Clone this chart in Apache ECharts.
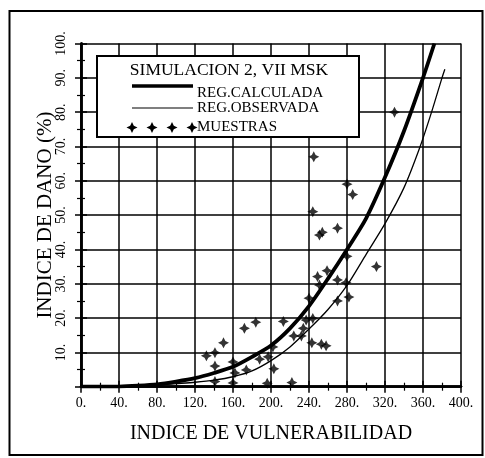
<!DOCTYPE html>
<html>
<head>
<meta charset="utf-8">
<script src="https://cdn.jsdelivr.net/npm/echarts@6/dist/echarts.min.js"></script>
<style>
html,body{margin:0;padding:0;background:#fff;}
#c{width:485px;height:458px;}
</style>
</head>
<body>
<div id="c"></div>
<script>
// ---- data ----
var titleText = 'SIMULACION 2, VII MSK';
var seriesNames = ['REG.CALCULADA', 'REG.OBSERVADA', 'MUESTRAS'];
var xAxisTitle = 'INDICE DE VULNERABILIDAD';
var yAxisTitle = 'INDICE DE DANO (%)';

// thick curve (calculated regression)
var calcX = [0, 40, 60, 80, 100, 120, 140, 160, 180, 200, 220, 240, 260, 280, 300, 320, 340, 360, 372];
var calcY = [0, 0.05, 0.3, 0.7, 1.5, 2.5, 4.0, 5.8, 8.7, 12.0, 17.0, 23.5, 31.5, 40.0, 49.0, 61.0, 74.5, 90.0, 100.0];

// thin curve (observed regression)
var obsX = [0, 40, 80, 100, 120, 140, 160, 180, 200, 220, 240, 260, 280, 300, 320, 340, 357, 369, 380, 383];
var obsY = [0, 0.05, 0.5, 0.9, 1.3, 1.9, 2.9, 4.6, 7.6, 11.6, 16.8, 22.5, 29.5, 38.5, 47.5, 58.0, 70.0, 80.0, 90.0, 92.5];

// samples (crosses)
var sampX = [132, 141, 150, 141, 141, 160, 162, 160, 172, 184, 174, 188, 197, 196, 202, 203, 213, 222, 224, 232, 234, 237, 244, 240, 243, 253, 258, 249, 251, 259, 270, 279, 282, 270, 280, 251, 254, 270, 244, 245, 280, 286, 311, 330];
var sampY = [9.0, 9.9, 12.8, 6.0, 1.5, 7.2, 4.0, 1.1, 17.0, 18.8, 4.9, 8.0, 8.7, 1.0, 11.6, 5.2, 19.0, 1.2, 14.8, 14.8, 17.0, 19.4, 19.9, 25.8, 12.8, 12.4, 11.9, 32.1, 29.6, 33.8, 31.1, 30.3, 26.1, 25.0, 38.0, 44.2, 45.0, 46.2, 51.0, 67.0, 59.0, 56.0, 35.0, 80.0];

var xMin = 0, xMax = 400, xStep = 40;
var yMin = 0, yMax = 100, yStep = 10;

// ---- build ----
function zip(a, b) { return a.map(function (v, i) { return [v, b[i]]; }); }
var FONT = 'Liberation Serif';
var crossPath = 'path://M0,-5L1.7,-1.7L5,0L1.7,1.7L0,5L-1.7,1.7L-5,0L-1.7,-1.7Z';

function crossPoly(cx, cy, r) {
  var k = r * 0.33;
  return [[cx, cy - r], [cx + k, cy - k], [cx + r, cy], [cx + k, cy + k], [cx, cy + r], [cx - k, cy + k], [cx - r, cy], [cx - k, cy - k]];
}

var axisCommon = {
  axisLine: { show: true, lineStyle: { color: '#000', width: 2.5 } },
  axisTick: { show: true, inside: false, length: 6, lineStyle: { color: '#000', width: 1.5 } },
  minorTick: { show: true, splitNumber: 2, length: 4, lineStyle: { color: '#000', width: 1.2 } },
  splitLine: { show: true, lineStyle: { color: '#000', width: 1.5 } }
};

var legendGraphics = [
  { type: 'rect', z: 100, shape: { x: 97, y: 56, width: 262, height: 81 }, style: { fill: '#fff', stroke: '#000', lineWidth: 2 } },
  { type: 'text', z: 101, x: 229, y: 70, style: { text: titleText, fill: '#000', font: '17.5px "' + FONT + '"', align: 'center', verticalAlign: 'middle' } },
  { type: 'line', z: 101, shape: { x1: 132, y1: 86, x2: 193, y2: 86 }, style: { stroke: '#000', lineWidth: 3.5 } },
  { type: 'line', z: 101, shape: { x1: 132, y1: 108, x2: 193, y2: 108 }, style: { stroke: '#000', lineWidth: 1.2 } },
  { type: 'text', z: 101, x: 197, y: 93, style: { text: seriesNames[0], fill: '#000', font: '15px "' + FONT + '"', align: 'left', verticalAlign: 'middle' } },
  { type: 'text', z: 101, x: 197, y: 108, style: { text: seriesNames[1], fill: '#000', font: '15px "' + FONT + '"', align: 'left', verticalAlign: 'middle' } },
  { type: 'text', z: 101, x: 197, y: 127, style: { text: seriesNames[2], fill: '#000', font: '15px "' + FONT + '"', align: 'left', verticalAlign: 'middle' } }
];
[132, 152, 172, 192].forEach(function (cx) {
  legendGraphics.push({ type: 'polygon', z: 101, shape: { points: crossPoly(cx, 127.5, 5.5) }, style: { fill: '#000' } });
});
// outer frame
legendGraphics.push({ type: 'rect', z: 0, shape: { x: 9.5, y: 11, width: 473, height: 444 }, style: { fill: 'none', stroke: '#000', lineWidth: 2 } });

var chart = echarts.init(document.getElementById('c'), null, { renderer: 'canvas' });
chart.setOption({
  backgroundColor: '#fff',
  animation: false,
  textStyle: { fontFamily: FONT, color: '#000' },
  grid: { left: 81, right: 24, top: 43.5, bottom: 71.3 },
  xAxis: [
    Object.assign({}, axisCommon, {
      type: 'value', position: 'bottom', min: xMin, max: xMax, interval: xStep,
      axisLabel: { show: true, color: '#000', fontFamily: FONT, fontSize: 14, margin: 10, formatter: function (v) { return v + '.'; } },
      name: xAxisTitle, nameLocation: 'middle', nameGap: 37,
      nameTextStyle: { fontFamily: FONT, fontSize: 20, color: '#000' }
    }),
    Object.assign({}, axisCommon, {
      type: 'value', position: 'top', min: xMin, max: xMax, interval: xStep,
      axisLabel: { show: false }, splitLine: { show: false }
    })
  ],
  yAxis: [
    Object.assign({}, axisCommon, {
      type: 'value', position: 'left', min: yMin, max: yMax, interval: yStep,
      axisLabel: { show: true, rotate: 90, color: '#000', fontFamily: FONT, fontSize: 14, margin: 13, formatter: function (v) { return v === 0 ? '' : v + '.'; } },
      name: yAxisTitle, nameLocation: 'middle', nameGap: 25.5, nameRotate: 90, nameMoveOverlap: false,
      nameTextStyle: { fontFamily: FONT, fontSize: 21, color: '#000' }
    }),
    Object.assign({}, axisCommon, {
      type: 'value', position: 'right', min: yMin, max: yMax, interval: yStep,
      axisLabel: { show: false }, splitLine: { show: false }
    })
  ],
  graphic: legendGraphics,
  series: [
    {
      name: seriesNames[1], type: 'line', data: zip(obsX, obsY), smooth: 0.25, showSymbol: false, clip: true,
      lineStyle: { color: '#000', width: 1.3 }, z: 3
    },
    {
      name: seriesNames[0], type: 'line', data: zip(calcX, calcY), smooth: 0.25, showSymbol: false, clip: true,
      lineStyle: { color: '#000', width: 3.8 }, z: 4
    },
    {
      name: seriesNames[2], type: 'scatter', data: zip(sampX, sampY), symbol: crossPath, symbolSize: 11,
      itemStyle: { color: '#000' }, z: 5
    }
  ]
});
</script>
</body>
</html>
